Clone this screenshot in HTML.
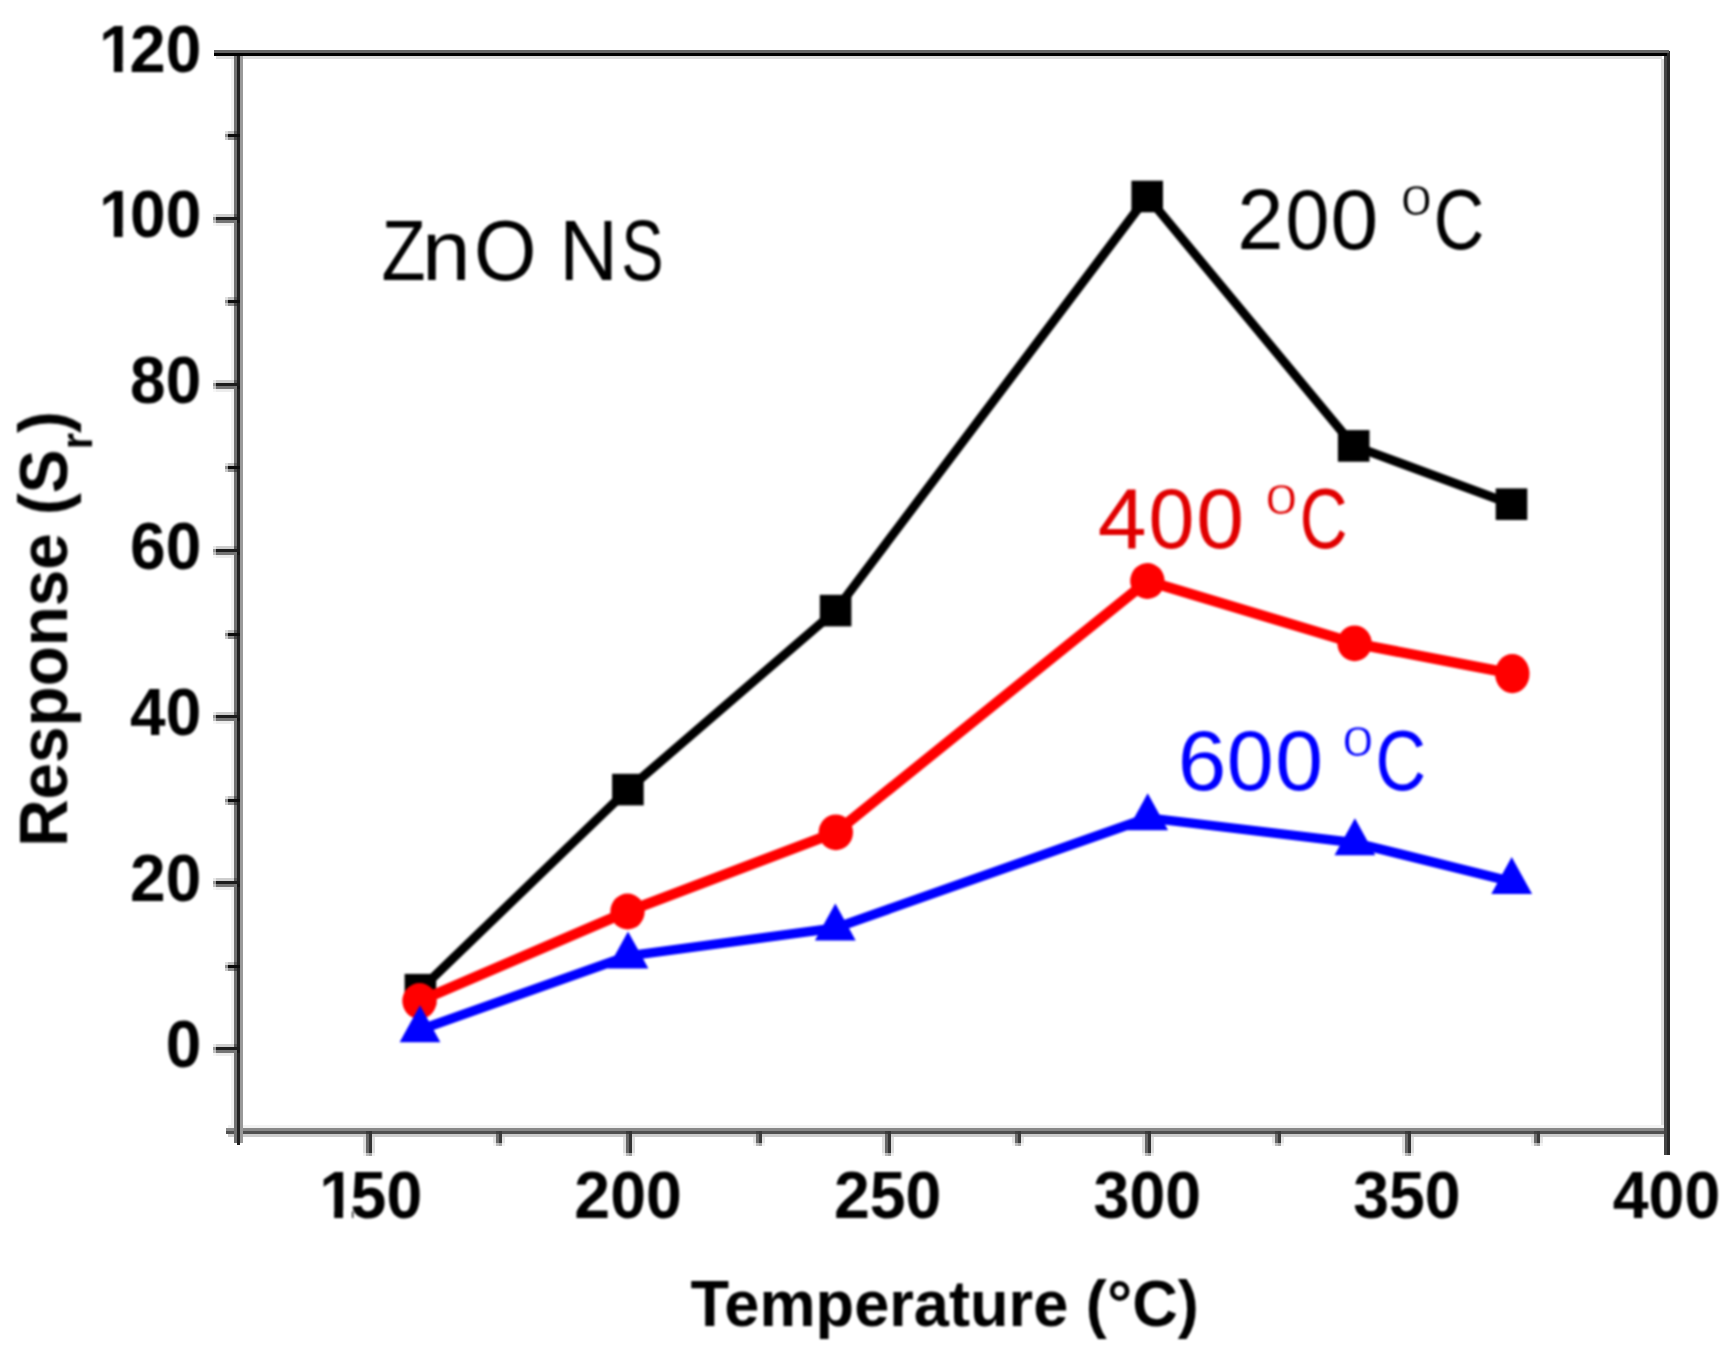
<!DOCTYPE html>
<html lang="en"><head><meta charset="utf-8"><title>ZnO NS response vs temperature</title>
<style>
html,body{margin:0;padding:0;background:#fff;}
body{width:1730px;height:1367px;position:relative;overflow:hidden;font-family:"Liberation Sans",sans-serif;}
</style></head><body>
<svg width="1730" height="1367" viewBox="0 0 1730 1367" style="position:absolute;left:0;top:0;display:block">
<rect x="0" y="0" width="1730" height="1367" fill="#ffffff"/>
<defs><filter id="soft" x="-2%" y="-2%" width="104%" height="104%" color-interpolation-filters="sRGB"><feGaussianBlur stdDeviation="0.9"/></filter></defs>
<g shape-rendering="crispEdges">
<rect x="231" y="59" width="3" height="1069" fill="#f2f2f2"/>
<rect x="1661" y="59" width="3" height="1069" fill="#dddddd"/>
<rect x="216" y="56" width="1446" height="3" fill="#dddddd"/>
<rect x="228" y="1125" width="1436" height="3" fill="#f2f2f2"/>
<rect x="228" y="1134" width="1436" height="3" fill="#cccccc"/>
<rect x="226" y="1128" width="1444" height="3" fill="#888888"/>
<rect x="226" y="1131" width="1444" height="3" fill="#505050"/>
<rect x="234" y="56" width="3" height="1087" fill="#707070"/>
<rect x="237" y="56" width="3" height="1089" fill="#202020"/>
<rect x="240" y="56" width="3" height="1087" fill="#999999"/>
<rect x="1664" y="53" width="3" height="1102" fill="#444444"/>
<rect x="1667" y="51" width="3" height="1104" fill="#282828"/>
<rect x="214" y="50" width="1455" height="3" fill="#666666"/>
<rect x="214" y="53" width="1453" height="3" fill="#000000"/>
</g>
<g shape-rendering="crispEdges">
<rect x="216" y="1044" width="18" height="3" fill="#cdcdcd"/>
<rect x="213" y="1044" width="3" height="3" fill="#cdcdcd" opacity="0.45"/>
<rect x="216" y="1047" width="24" height="3" fill="#1c1c1c"/>
<rect x="213" y="1047" width="3" height="3" fill="#1c1c1c" opacity="0.45"/>
<rect x="216" y="1050" width="21" height="3" fill="#747474"/>
<rect x="213" y="1050" width="3" height="3" fill="#747474" opacity="0.45"/>
<rect x="216" y="1053" width="18" height="3" fill="#ececec"/>
<rect x="213" y="1053" width="3" height="3" fill="#ececec" opacity="0.45"/>
<rect x="234" y="1044" width="3" height="3" fill="#555555"/>
<rect x="237" y="1050" width="3" height="3" fill="#151515"/>
<rect x="216" y="878" width="18" height="3" fill="#cdcdcd"/>
<rect x="213" y="878" width="3" height="3" fill="#cdcdcd" opacity="0.45"/>
<rect x="216" y="881" width="24" height="3" fill="#1c1c1c"/>
<rect x="213" y="881" width="3" height="3" fill="#1c1c1c" opacity="0.45"/>
<rect x="216" y="884" width="21" height="3" fill="#747474"/>
<rect x="213" y="884" width="3" height="3" fill="#747474" opacity="0.45"/>
<rect x="216" y="887" width="18" height="3" fill="#ececec"/>
<rect x="213" y="887" width="3" height="3" fill="#ececec" opacity="0.45"/>
<rect x="234" y="878" width="3" height="3" fill="#555555"/>
<rect x="237" y="884" width="3" height="3" fill="#151515"/>
<rect x="216" y="712" width="18" height="3" fill="#cdcdcd"/>
<rect x="213" y="712" width="3" height="3" fill="#cdcdcd" opacity="0.45"/>
<rect x="216" y="715" width="24" height="3" fill="#1c1c1c"/>
<rect x="213" y="715" width="3" height="3" fill="#1c1c1c" opacity="0.45"/>
<rect x="216" y="718" width="21" height="3" fill="#747474"/>
<rect x="213" y="718" width="3" height="3" fill="#747474" opacity="0.45"/>
<rect x="216" y="721" width="18" height="3" fill="#ececec"/>
<rect x="213" y="721" width="3" height="3" fill="#ececec" opacity="0.45"/>
<rect x="234" y="712" width="3" height="3" fill="#555555"/>
<rect x="237" y="718" width="3" height="3" fill="#151515"/>
<rect x="216" y="546" width="18" height="3" fill="#cdcdcd"/>
<rect x="213" y="546" width="3" height="3" fill="#cdcdcd" opacity="0.45"/>
<rect x="216" y="549" width="24" height="3" fill="#1c1c1c"/>
<rect x="213" y="549" width="3" height="3" fill="#1c1c1c" opacity="0.45"/>
<rect x="216" y="552" width="21" height="3" fill="#747474"/>
<rect x="213" y="552" width="3" height="3" fill="#747474" opacity="0.45"/>
<rect x="216" y="555" width="18" height="3" fill="#ececec"/>
<rect x="213" y="555" width="3" height="3" fill="#ececec" opacity="0.45"/>
<rect x="234" y="546" width="3" height="3" fill="#555555"/>
<rect x="237" y="552" width="3" height="3" fill="#151515"/>
<rect x="216" y="380" width="18" height="3" fill="#cdcdcd"/>
<rect x="213" y="380" width="3" height="3" fill="#cdcdcd" opacity="0.45"/>
<rect x="216" y="383" width="24" height="3" fill="#1c1c1c"/>
<rect x="213" y="383" width="3" height="3" fill="#1c1c1c" opacity="0.45"/>
<rect x="216" y="386" width="21" height="3" fill="#747474"/>
<rect x="213" y="386" width="3" height="3" fill="#747474" opacity="0.45"/>
<rect x="216" y="389" width="18" height="3" fill="#ececec"/>
<rect x="213" y="389" width="3" height="3" fill="#ececec" opacity="0.45"/>
<rect x="234" y="380" width="3" height="3" fill="#555555"/>
<rect x="237" y="386" width="3" height="3" fill="#151515"/>
<rect x="216" y="214" width="18" height="3" fill="#cdcdcd"/>
<rect x="213" y="214" width="3" height="3" fill="#cdcdcd" opacity="0.45"/>
<rect x="216" y="217" width="24" height="3" fill="#1c1c1c"/>
<rect x="213" y="217" width="3" height="3" fill="#1c1c1c" opacity="0.45"/>
<rect x="216" y="220" width="21" height="3" fill="#747474"/>
<rect x="213" y="220" width="3" height="3" fill="#747474" opacity="0.45"/>
<rect x="216" y="223" width="18" height="3" fill="#ececec"/>
<rect x="213" y="223" width="3" height="3" fill="#ececec" opacity="0.45"/>
<rect x="234" y="214" width="3" height="3" fill="#555555"/>
<rect x="237" y="220" width="3" height="3" fill="#151515"/>
<rect x="228" y="962" width="6" height="3" fill="#bdbdbd"/>
<rect x="225" y="962" width="3" height="3" fill="#bdbdbd" opacity="0.45"/>
<rect x="228" y="965" width="12" height="3" fill="#0c0c0c"/>
<rect x="225" y="965" width="3" height="3" fill="#0c0c0c" opacity="0.45"/>
<rect x="228" y="968" width="6" height="3" fill="#8c8c8c"/>
<rect x="225" y="968" width="3" height="3" fill="#8c8c8c" opacity="0.45"/>
<rect x="234" y="962" width="3" height="3" fill="#555555"/>
<rect x="234" y="968" width="3" height="3" fill="#444444"/>
<rect x="228" y="796" width="6" height="3" fill="#bdbdbd"/>
<rect x="225" y="796" width="3" height="3" fill="#bdbdbd" opacity="0.45"/>
<rect x="228" y="799" width="12" height="3" fill="#0c0c0c"/>
<rect x="225" y="799" width="3" height="3" fill="#0c0c0c" opacity="0.45"/>
<rect x="228" y="802" width="6" height="3" fill="#8c8c8c"/>
<rect x="225" y="802" width="3" height="3" fill="#8c8c8c" opacity="0.45"/>
<rect x="234" y="796" width="3" height="3" fill="#555555"/>
<rect x="234" y="802" width="3" height="3" fill="#444444"/>
<rect x="228" y="630" width="6" height="3" fill="#bdbdbd"/>
<rect x="225" y="630" width="3" height="3" fill="#bdbdbd" opacity="0.45"/>
<rect x="228" y="633" width="12" height="3" fill="#0c0c0c"/>
<rect x="225" y="633" width="3" height="3" fill="#0c0c0c" opacity="0.45"/>
<rect x="228" y="636" width="6" height="3" fill="#8c8c8c"/>
<rect x="225" y="636" width="3" height="3" fill="#8c8c8c" opacity="0.45"/>
<rect x="234" y="630" width="3" height="3" fill="#555555"/>
<rect x="234" y="636" width="3" height="3" fill="#444444"/>
<rect x="228" y="463" width="6" height="3" fill="#bdbdbd"/>
<rect x="225" y="463" width="3" height="3" fill="#bdbdbd" opacity="0.45"/>
<rect x="228" y="466" width="12" height="3" fill="#0c0c0c"/>
<rect x="225" y="466" width="3" height="3" fill="#0c0c0c" opacity="0.45"/>
<rect x="228" y="469" width="6" height="3" fill="#8c8c8c"/>
<rect x="225" y="469" width="3" height="3" fill="#8c8c8c" opacity="0.45"/>
<rect x="234" y="463" width="3" height="3" fill="#555555"/>
<rect x="234" y="469" width="3" height="3" fill="#444444"/>
<rect x="228" y="297" width="6" height="3" fill="#bdbdbd"/>
<rect x="225" y="297" width="3" height="3" fill="#bdbdbd" opacity="0.45"/>
<rect x="228" y="300" width="12" height="3" fill="#0c0c0c"/>
<rect x="225" y="300" width="3" height="3" fill="#0c0c0c" opacity="0.45"/>
<rect x="228" y="303" width="6" height="3" fill="#8c8c8c"/>
<rect x="225" y="303" width="3" height="3" fill="#8c8c8c" opacity="0.45"/>
<rect x="234" y="297" width="3" height="3" fill="#555555"/>
<rect x="234" y="303" width="3" height="3" fill="#444444"/>
<rect x="228" y="131" width="6" height="3" fill="#bdbdbd"/>
<rect x="225" y="131" width="3" height="3" fill="#bdbdbd" opacity="0.45"/>
<rect x="228" y="134" width="12" height="3" fill="#0c0c0c"/>
<rect x="225" y="134" width="3" height="3" fill="#0c0c0c" opacity="0.45"/>
<rect x="228" y="137" width="6" height="3" fill="#8c8c8c"/>
<rect x="225" y="137" width="3" height="3" fill="#8c8c8c" opacity="0.45"/>
<rect x="234" y="131" width="3" height="3" fill="#555555"/>
<rect x="234" y="137" width="3" height="3" fill="#444444"/>
<rect x="363" y="1137" width="3" height="16" fill="#dddddd"/>
<rect x="363" y="1153" width="3" height="3" fill="#dddddd" opacity="0.45"/>
<rect x="366" y="1134" width="3" height="19" fill="#666666"/>
<rect x="366" y="1153" width="3" height="3" fill="#666666" opacity="0.45"/>
<rect x="369" y="1131" width="3" height="22" fill="#333333"/>
<rect x="369" y="1153" width="3" height="3" fill="#333333" opacity="0.45"/>
<rect x="372" y="1137" width="3" height="16" fill="#dddddd"/>
<rect x="372" y="1153" width="3" height="3" fill="#dddddd" opacity="0.45"/>
<rect x="366" y="1131" width="3" height="3" fill="#3a3a3a"/>
<rect x="623" y="1137" width="3" height="16" fill="#dddddd"/>
<rect x="623" y="1153" width="3" height="3" fill="#dddddd" opacity="0.45"/>
<rect x="626" y="1134" width="3" height="19" fill="#666666"/>
<rect x="626" y="1153" width="3" height="3" fill="#666666" opacity="0.45"/>
<rect x="629" y="1131" width="3" height="22" fill="#333333"/>
<rect x="629" y="1153" width="3" height="3" fill="#333333" opacity="0.45"/>
<rect x="632" y="1137" width="3" height="16" fill="#dddddd"/>
<rect x="632" y="1153" width="3" height="3" fill="#dddddd" opacity="0.45"/>
<rect x="626" y="1131" width="3" height="3" fill="#3a3a3a"/>
<rect x="882" y="1137" width="3" height="16" fill="#dddddd"/>
<rect x="882" y="1153" width="3" height="3" fill="#dddddd" opacity="0.45"/>
<rect x="885" y="1134" width="3" height="19" fill="#666666"/>
<rect x="885" y="1153" width="3" height="3" fill="#666666" opacity="0.45"/>
<rect x="888" y="1131" width="3" height="22" fill="#333333"/>
<rect x="888" y="1153" width="3" height="3" fill="#333333" opacity="0.45"/>
<rect x="891" y="1137" width="3" height="16" fill="#dddddd"/>
<rect x="891" y="1153" width="3" height="3" fill="#dddddd" opacity="0.45"/>
<rect x="885" y="1131" width="3" height="3" fill="#3a3a3a"/>
<rect x="1142" y="1137" width="3" height="16" fill="#dddddd"/>
<rect x="1142" y="1153" width="3" height="3" fill="#dddddd" opacity="0.45"/>
<rect x="1145" y="1134" width="3" height="19" fill="#666666"/>
<rect x="1145" y="1153" width="3" height="3" fill="#666666" opacity="0.45"/>
<rect x="1148" y="1131" width="3" height="22" fill="#333333"/>
<rect x="1148" y="1153" width="3" height="3" fill="#333333" opacity="0.45"/>
<rect x="1151" y="1137" width="3" height="16" fill="#dddddd"/>
<rect x="1151" y="1153" width="3" height="3" fill="#dddddd" opacity="0.45"/>
<rect x="1145" y="1131" width="3" height="3" fill="#3a3a3a"/>
<rect x="1402" y="1137" width="3" height="16" fill="#dddddd"/>
<rect x="1402" y="1153" width="3" height="3" fill="#dddddd" opacity="0.45"/>
<rect x="1405" y="1134" width="3" height="19" fill="#666666"/>
<rect x="1405" y="1153" width="3" height="3" fill="#666666" opacity="0.45"/>
<rect x="1408" y="1131" width="3" height="22" fill="#333333"/>
<rect x="1408" y="1153" width="3" height="3" fill="#333333" opacity="0.45"/>
<rect x="1411" y="1137" width="3" height="16" fill="#dddddd"/>
<rect x="1411" y="1153" width="3" height="3" fill="#dddddd" opacity="0.45"/>
<rect x="1405" y="1131" width="3" height="3" fill="#3a3a3a"/>
<rect x="493" y="1137" width="3" height="6" fill="#e4e4e4"/>
<rect x="493" y="1143" width="3" height="3" fill="#e4e4e4" opacity="0.45"/>
<rect x="496" y="1134" width="3" height="9" fill="#6c6c6c"/>
<rect x="496" y="1143" width="3" height="3" fill="#6c6c6c" opacity="0.45"/>
<rect x="499" y="1131" width="3" height="12" fill="#3a3a3a"/>
<rect x="499" y="1143" width="3" height="3" fill="#3a3a3a" opacity="0.45"/>
<rect x="502" y="1137" width="3" height="6" fill="#e4e4e4"/>
<rect x="502" y="1143" width="3" height="3" fill="#e4e4e4" opacity="0.45"/>
<rect x="496" y="1131" width="3" height="3" fill="#404040"/>
<rect x="753" y="1137" width="3" height="6" fill="#e4e4e4"/>
<rect x="753" y="1143" width="3" height="3" fill="#e4e4e4" opacity="0.45"/>
<rect x="756" y="1134" width="3" height="9" fill="#6c6c6c"/>
<rect x="756" y="1143" width="3" height="3" fill="#6c6c6c" opacity="0.45"/>
<rect x="759" y="1131" width="3" height="12" fill="#3a3a3a"/>
<rect x="759" y="1143" width="3" height="3" fill="#3a3a3a" opacity="0.45"/>
<rect x="762" y="1137" width="3" height="6" fill="#e4e4e4"/>
<rect x="762" y="1143" width="3" height="3" fill="#e4e4e4" opacity="0.45"/>
<rect x="756" y="1131" width="3" height="3" fill="#404040"/>
<rect x="1012" y="1137" width="3" height="6" fill="#e4e4e4"/>
<rect x="1012" y="1143" width="3" height="3" fill="#e4e4e4" opacity="0.45"/>
<rect x="1015" y="1134" width="3" height="9" fill="#6c6c6c"/>
<rect x="1015" y="1143" width="3" height="3" fill="#6c6c6c" opacity="0.45"/>
<rect x="1018" y="1131" width="3" height="12" fill="#3a3a3a"/>
<rect x="1018" y="1143" width="3" height="3" fill="#3a3a3a" opacity="0.45"/>
<rect x="1021" y="1137" width="3" height="6" fill="#e4e4e4"/>
<rect x="1021" y="1143" width="3" height="3" fill="#e4e4e4" opacity="0.45"/>
<rect x="1015" y="1131" width="3" height="3" fill="#404040"/>
<rect x="1272" y="1137" width="3" height="6" fill="#e4e4e4"/>
<rect x="1272" y="1143" width="3" height="3" fill="#e4e4e4" opacity="0.45"/>
<rect x="1275" y="1134" width="3" height="9" fill="#6c6c6c"/>
<rect x="1275" y="1143" width="3" height="3" fill="#6c6c6c" opacity="0.45"/>
<rect x="1278" y="1131" width="3" height="12" fill="#3a3a3a"/>
<rect x="1278" y="1143" width="3" height="3" fill="#3a3a3a" opacity="0.45"/>
<rect x="1281" y="1137" width="3" height="6" fill="#e4e4e4"/>
<rect x="1281" y="1143" width="3" height="3" fill="#e4e4e4" opacity="0.45"/>
<rect x="1275" y="1131" width="3" height="3" fill="#404040"/>
<rect x="1531" y="1137" width="3" height="6" fill="#e4e4e4"/>
<rect x="1531" y="1143" width="3" height="3" fill="#e4e4e4" opacity="0.45"/>
<rect x="1534" y="1134" width="3" height="9" fill="#6c6c6c"/>
<rect x="1534" y="1143" width="3" height="3" fill="#6c6c6c" opacity="0.45"/>
<rect x="1537" y="1131" width="3" height="12" fill="#3a3a3a"/>
<rect x="1537" y="1143" width="3" height="3" fill="#3a3a3a" opacity="0.45"/>
<rect x="1540" y="1137" width="3" height="6" fill="#e4e4e4"/>
<rect x="1540" y="1143" width="3" height="3" fill="#e4e4e4" opacity="0.45"/>
<rect x="1534" y="1131" width="3" height="3" fill="#404040"/>
</g>
<g filter="url(#soft)">
<polyline points="420.4,989.7 627.9,789.6 835.6,610.6 1147.2,196.5 1353.7,445.9 1511.5,504.2" fill="none" stroke="#000" stroke-width="9" stroke-linejoin="round"/>
<rect x="404.6" y="973.9" width="31.6" height="31.6" fill="#000"/>
<rect x="612.1" y="773.8" width="31.6" height="31.6" fill="#000"/>
<rect x="819.8" y="594.8" width="31.6" height="31.6" fill="#000"/>
<rect x="1131.4" y="180.7" width="31.6" height="31.6" fill="#000"/>
<rect x="1337.9" y="430.1" width="31.6" height="31.6" fill="#000"/>
<rect x="1495.7" y="488.4" width="31.6" height="31.6" fill="#000"/>
<polyline points="419.5,1001.0 627.5,911.5 835.8,832.3 1147.4,581.0 1354.6,643.3 1512.3,673.7" fill="none" stroke="#ff0000" stroke-width="10.5" stroke-linejoin="round"/>
<ellipse cx="419.5" cy="1001.0" rx="17.2" ry="17.9" fill="#ff0000"/>
<ellipse cx="627.5" cy="911.5" rx="17.2" ry="17.9" fill="#ff0000"/>
<ellipse cx="835.8" cy="832.3" rx="17.2" ry="17.9" fill="#ff0000"/>
<ellipse cx="1147.4" cy="581.0" rx="17.2" ry="17.9" fill="#ff0000"/>
<ellipse cx="1354.6" cy="643.3" rx="17.2" ry="17.9" fill="#ff0000"/>
<ellipse cx="1512.3" cy="673.7" rx="17.2" ry="19.6" fill="#ff0000"/>
<polyline points="420.0,1029.8 628.0,956.0 835.3,928.0 1147.7,817.9 1354.9,842.8 1511.7,881.7" fill="none" stroke="#0000ff" stroke-width="9.5" stroke-linejoin="round"/>
<polygon points="420.0,1005.2 440.4,1042.2 399.6,1042.2" fill="#0000ff"/>
<polygon points="628.0,931.4 648.4,968.4 607.6,968.4" fill="#0000ff"/>
<polygon points="835.3,903.4 855.7,940.4 814.9,940.4" fill="#0000ff"/>
<polygon points="1147.7,793.3 1168.1,830.3 1127.3,830.3" fill="#0000ff"/>
<polygon points="1354.9,818.2 1375.3,855.2 1334.5,855.2" fill="#0000ff"/>
<polygon points="1511.7,857.1 1532.1,894.1 1491.3,894.1" fill="#0000ff"/>
<g transform="translate(201.3,1067.2) scale(0.97,1)"><text x="-36.71" y="0" font-size="66" font-family="Liberation Sans, Arial, Helvetica, sans-serif" font-weight="bold" fill="#000">0</text></g>
<g transform="translate(201.3,901.1) scale(0.97,1)"><text x="-73.41 -36.71" y="0" font-size="66" font-family="Liberation Sans, Arial, Helvetica, sans-serif" font-weight="bold" fill="#000">20</text></g>
<g transform="translate(201.3,735.1) scale(0.97,1)"><text x="-73.41 -36.71" y="0" font-size="66" font-family="Liberation Sans, Arial, Helvetica, sans-serif" font-weight="bold" fill="#000">40</text></g>
<g transform="translate(201.3,569.0) scale(0.97,1)"><text x="-73.41 -36.71" y="0" font-size="66" font-family="Liberation Sans, Arial, Helvetica, sans-serif" font-weight="bold" fill="#000">60</text></g>
<g transform="translate(201.3,403.0) scale(0.97,1)"><text x="-73.41 -36.71" y="0" font-size="66" font-family="Liberation Sans, Arial, Helvetica, sans-serif" font-weight="bold" fill="#000">80</text></g>
<g transform="translate(201.3,236.9) scale(0.97,1)"><text x="-105.52 -73.41 -36.71" y="0" font-size="66" font-family="Liberation Sans, Arial, Helvetica, sans-serif" font-weight="bold" fill="#000">100</text><rect x="-102.86" y="-8.04" width="12.75" height="9.54" fill="#fff"/><rect x="-81.06" y="-8.04" width="11.91" height="9.54" fill="#fff"/></g>
<g transform="translate(201.3,72.0) scale(0.97,1)"><text x="-105.52 -73.41 -36.71" y="0" font-size="66" font-family="Liberation Sans, Arial, Helvetica, sans-serif" font-weight="bold" fill="#000">120</text><rect x="-102.86" y="-8.04" width="12.75" height="9.54" fill="#fff"/><rect x="-81.06" y="-8.04" width="9.33" height="9.54" fill="#fff"/></g>
<g transform="translate(368.5,1218.0) scale(0.955,1)"><text x="-51.71 -18.77 18.77" y="0" font-size="67.5" font-family="Liberation Sans, Arial, Helvetica, sans-serif" font-weight="bold" fill="#000">150</text><rect x="-48.96" y="-8.19" width="13.00" height="9.69" fill="#fff"/><rect x="-26.69" y="-8.19" width="9.40" height="9.69" fill="#fff"/></g>
<g transform="translate(628.1,1218.0) scale(0.955,1)"><text x="-56.31 -18.77 18.77" y="0" font-size="67.5" font-family="Liberation Sans, Arial, Helvetica, sans-serif" font-weight="bold" fill="#000">200</text></g>
<g transform="translate(887.7,1218.0) scale(0.955,1)"><text x="-56.31 -18.77 18.77" y="0" font-size="67.5" font-family="Liberation Sans, Arial, Helvetica, sans-serif" font-weight="bold" fill="#000">250</text></g>
<g transform="translate(1147.3,1218.0) scale(0.955,1)"><text x="-56.31 -18.77 18.77" y="0" font-size="67.5" font-family="Liberation Sans, Arial, Helvetica, sans-serif" font-weight="bold" fill="#000">300</text></g>
<g transform="translate(1406.9,1218.0) scale(0.955,1)"><text x="-56.31 -18.77 18.77" y="0" font-size="67.5" font-family="Liberation Sans, Arial, Helvetica, sans-serif" font-weight="bold" fill="#000">350</text></g>
<g transform="translate(1666.5,1218.0) scale(0.955,1)"><text x="-56.31 -18.77 18.77" y="0" font-size="67.5" font-family="Liberation Sans, Arial, Helvetica, sans-serif" font-weight="bold" fill="#000">400</text></g>
<text transform="translate(944.6,1326) scale(0.972,1)" text-anchor="middle" font-size="65" font-family="Liberation Sans, Arial, Helvetica, sans-serif" font-weight="bold" fill="#000">Temperature (°C)</text>
<text transform="translate(67,629) rotate(-90) scale(0.951,1)" text-anchor="middle" font-size="69" font-family="Liberation Sans, Arial, Helvetica, sans-serif" font-weight="bold" fill="#000">Response (S<tspan font-size="44" dy="25">r</tspan><tspan dy="-25">)</tspan></text>
<text y="280.3" font-size="86" font-family="Liberation Sans, Arial, Helvetica, sans-serif" fill="#000"><tspan x="381.51" textLength="44.15" lengthAdjust="spacingAndGlyphs">Z</tspan><tspan x="422.10" textLength="48.57" lengthAdjust="spacingAndGlyphs">n</tspan><tspan x="474.00" textLength="62.44" lengthAdjust="spacingAndGlyphs">O</tspan> <tspan x="559.23" textLength="58.69" lengthAdjust="spacingAndGlyphs">N</tspan><tspan x="621.22" textLength="42.29" lengthAdjust="spacingAndGlyphs">S</tspan></text>
<text y="248.5" font-size="86" font-family="Liberation Sans, Arial, Helvetica, sans-serif" fill="#000"><tspan x="1237.32" textLength="46.27" lengthAdjust="spacingAndGlyphs">2</tspan><tspan x="1285.41" textLength="43.98" lengthAdjust="spacingAndGlyphs">0</tspan><tspan x="1330.44" textLength="47.82" lengthAdjust="spacingAndGlyphs">0</tspan> <tspan x="1400.41" textLength="31.68" lengthAdjust="spacingAndGlyphs" font-size="56" dy="-33.9" stroke="#ffffff" stroke-width="1.25">o</tspan><tspan x="1433.85" textLength="50.52" lengthAdjust="spacingAndGlyphs" dy="33.9">C</tspan></text>
<text y="547.8" font-size="86" font-family="Liberation Sans, Arial, Helvetica, sans-serif" fill="#e00000"><tspan x="1097.88" textLength="48.89" lengthAdjust="spacingAndGlyphs">4</tspan><tspan x="1148.47" textLength="45.96" lengthAdjust="spacingAndGlyphs">0</tspan><tspan x="1196.15" textLength="47.70" lengthAdjust="spacingAndGlyphs">0</tspan> <tspan x="1265.14" textLength="32.63" lengthAdjust="spacingAndGlyphs" font-size="56" dy="-33.9" stroke="#ffffff" stroke-width="1.25">o</tspan><tspan x="1299.64" textLength="47.78" lengthAdjust="spacingAndGlyphs" dy="33.9">C</tspan></text>
<text y="790.0" font-size="86" font-family="Liberation Sans, Arial, Helvetica, sans-serif" fill="#0000ff"><tspan x="1177.86" textLength="48.57" lengthAdjust="spacingAndGlyphs">6</tspan><tspan x="1226.81" textLength="46.89" lengthAdjust="spacingAndGlyphs">0</tspan><tspan x="1275.24" textLength="47.82" lengthAdjust="spacingAndGlyphs">0</tspan> <tspan x="1342.01" textLength="31.68" lengthAdjust="spacingAndGlyphs" font-size="56" dy="-33.9" stroke="#ffffff" stroke-width="1.25">o</tspan><tspan x="1375.45" textLength="50.52" lengthAdjust="spacingAndGlyphs" dy="33.9">C</tspan></text>
</g>
</svg>
</body></html>
